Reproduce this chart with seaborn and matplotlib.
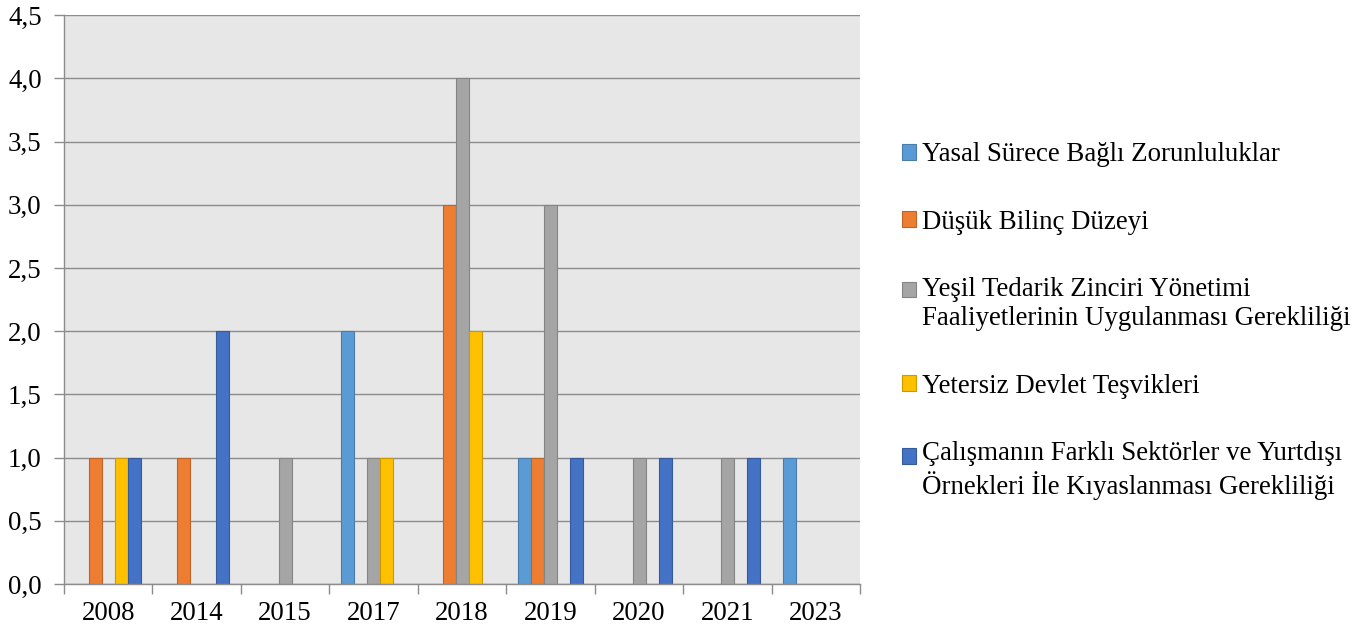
import pandas as pd
import seaborn as sns
import matplotlib.pyplot as plt
from matplotlib.patches import Patch, Rectangle
from matplotlib.legend_handler import HandlerPatch
from matplotlib.ticker import FuncFormatter, FixedLocator
import matplotlib.colors as mcolors

years = ['2008', '2014', '2015', '2017', '2018', '2019', '2020', '2021', '2023']
series = [
    'Yasal Sürece Bağlı Zorunluluklar',
    'Düşük Bilinç Düzeyi',
    'Yeşil Tedarik Zinciri Yönetimi\nFaaliyetlerinin Uygulanması Gerekliliği',
    'Yetersiz Devlet Teşvikleri',
    'Çalışmanın Farklı Sektörler ve Yurtdışı\nÖrnekleri İle Kıyaslanması Gerekliliği',
]
yasal = [0, 0, 0, 2, 0, 1, 0, 0, 1]
dusuk = [1, 1, 0, 0, 3, 1, 0, 0, 0]
yesil = [0, 0, 1, 1, 4, 3, 1, 1, 0]
yetersiz = [1, 0, 0, 1, 2, 0, 0, 0, 0]
calisma = [1, 2, 0, 0, 0, 1, 1, 1, 0]
colors = ['#5B9BD5', '#ED7D31', '#A5A5A5', '#FFC000', '#4472C4']

rows = []
for name, vals in zip(series, [yasal, dusuk, yesil, yetersiz, calisma]):
    for y, v in zip(years, vals):
        if v > 0:
            rows.append({'Yıl': y, 'Seri': name, 'Değer': v})
df = pd.DataFrame(rows)

FS = 19.4


def darker(c, f=0.8):
    return tuple(x * f for x in mcolors.to_rgb(c))


sns.set_style('white')
plt.rcParams['font.family'] = ['Liberation Serif', 'DejaVu Serif']
plt.rcParams['text.color'] = 'black'

fig = plt.figure(figsize=(13.68, 6.32), dpi=100)
ax = fig.add_axes([0.0468, 0.076, 0.582, 0.9])
ax.set_facecolor('#E7E7E7')

sns.barplot(data=df, x='Yıl', y='Değer', hue='Seri', order=years, hue_order=series,
            palette=colors, saturation=1, width=0.735, dodge=True, legend=False, ax=ax)

for p in ax.patches:
    p.set_edgecolor(darker(p.get_facecolor()))
    p.set_linewidth(0.8)

ax.set_ylim(0, 4.5)
ax.set_xlim(-0.5, len(years) - 0.5)
ax.set_yticks([i * 0.5 for i in range(10)])
ax.yaxis.set_major_formatter(FuncFormatter(lambda v, pos: f'{v:.1f}'.replace('.', ',')))
ax.grid(axis='y', color='#8C8C8C', linewidth=1.0)
ax.set_axisbelow(True)
ax.set_xlabel('')
ax.set_ylabel('')

ax.xaxis.set_minor_locator(FixedLocator([i - 0.5 for i in range(len(years) + 1)]))
ax.tick_params(axis='x', which='major', length=0, labelsize=FS, pad=12, labelcolor='black')
ax.tick_params(axis='x', which='minor', length=7, color='#8C8C8C', width=1, bottom=True)
ax.tick_params(axis='y', which='major', length=7, color='#8C8C8C', width=1, labelsize=FS,
               left=True, pad=9, labelcolor='black')

for s in ['top', 'right']:
    ax.spines[s].set_visible(False)
for s in ['left', 'bottom']:
    ax.spines[s].set_color('#8C8C8C')
    ax.spines[s].set_linewidth(1)


def square(shift):
    def make(legend, orig_handle, xdescent, ydescent, width, height, fontsize):
        return Rectangle((-xdescent, -ydescent + shift * fontsize), width, height)
    return make


handles = [Patch(facecolor=c, edgecolor=darker(c), linewidth=0.8) for c in colors]
hmap = {}
for h, name in zip(handles, series):
    shift = 0.55 if '\n' in name else 0.0
    hmap[h] = HandlerPatch(patch_func=square(shift))

fig.legend(handles, series, loc='center left', bbox_to_anchor=(0.659, 0.492),
           frameon=False, fontsize=FS, handlelength=0.52, handleheight=0.52,
           handletextpad=0.25, labelspacing=1.58, borderpad=0, borderaxespad=0,
           handler_map=hmap, labelcolor='black')

fig.savefig('out.png', dpi=100)
